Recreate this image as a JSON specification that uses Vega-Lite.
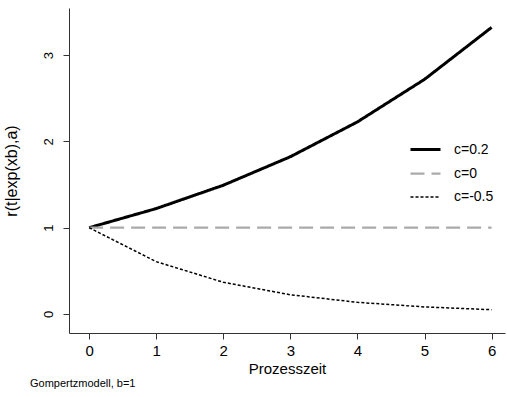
{
  "$schema": "https://vega.github.io/schema/vega-lite/v6.json",
  "autosize": {"type": "none"},
  "padding": {"left": 69, "top": 8, "right": 2, "bottom": 64},
  "width": 436,
  "height": 325,
  "background": "white",
  "config": {
    "font": "Liberation Sans",
    "view": {"stroke": null},
    "axis": {"grid": false, "domainColor": "#333", "tickColor": "#333", "labelColor": "black", "titleColor": "black", "titleFontWeight": "normal"}
  },
  "title": {
    "text": "Gompertzmodell, b=1",
    "orient": "bottom",
    "anchor": "start",
    "frame": "group",
    "fontSize": 11,
    "fontWeight": "normal",
    "dx": -39,
    "offset": 2,
    "color": "black"
  },
  "data": {
    "values": [
      {"t": 0, "r": 1, "c": "c=0.2"},
      {"t": 1, "r": 1.2214, "c": "c=0.2"},
      {"t": 2, "r": 1.4918, "c": "c=0.2"},
      {"t": 3, "r": 1.8221, "c": "c=0.2"},
      {"t": 4, "r": 2.2255, "c": "c=0.2"},
      {"t": 5, "r": 2.7183, "c": "c=0.2"},
      {"t": 6, "r": 3.3201, "c": "c=0.2"},
      {"t": 0, "r": 1, "c": "c=0"},
      {"t": 1, "r": 1, "c": "c=0"},
      {"t": 2, "r": 1, "c": "c=0"},
      {"t": 3, "r": 1, "c": "c=0"},
      {"t": 4, "r": 1, "c": "c=0"},
      {"t": 5, "r": 1, "c": "c=0"},
      {"t": 6, "r": 1, "c": "c=0"},
      {"t": 0, "r": 1, "c": "c=-0.5"},
      {"t": 1, "r": 0.6065, "c": "c=-0.5"},
      {"t": 2, "r": 0.3679, "c": "c=-0.5"},
      {"t": 3, "r": 0.2231, "c": "c=-0.5"},
      {"t": 4, "r": 0.1353, "c": "c=-0.5"},
      {"t": 5, "r": 0.0821, "c": "c=-0.5"},
      {"t": 6, "r": 0.0498, "c": "c=-0.5"}
    ]
  },
  "mark": {"type": "line", "clip": true},
  "encoding": {
    "x": {
      "field": "t", "type": "quantitative",
      "scale": {"domain": [-0.3, 6.2], "nice": false, "zero": false},
      "axis": {"values": [0, 1, 2, 3, 4, 5, 6], "title": "Prozesszeit", "labelFontSize": 15, "titleFontSize": 15, "tickSize": 6, "labelPadding": 4, "titlePadding": 3, "labelFlush": false}
    },
    "y": {
      "field": "r", "type": "quantitative",
      "scale": {"domain": [-0.22, 3.545], "nice": false, "zero": false},
      "axis": {"values": [0, 1, 2, 3], "title": "r(t|exp(xb),a)", "labelAngle": 270, "labelAlign": "center", "labelBaseline": "bottom", "labelFontSize": 13, "titleFontSize": 16, "tickSize": 6, "labelPadding": 8, "titlePadding": 23, "labelFlush": false}
    },
    "color": {
      "field": "c", "type": "nominal",
      "scale": {"domain": ["c=0.2", "c=0", "c=-0.5"], "range": ["black", "#aaaaaa", "black"]},
      "legend": {"title": null, "orient": "none", "legendX": 340, "legendY": 125, "labelFontSize": 14, "symbolSize": 900, "symbolType": "stroke", "labelOffset": 12, "rowPadding": 0}
    },
    "strokeDash": {
      "field": "c", "type": "nominal",
      "scale": {"domain": ["c=0.2", "c=0", "c=-0.5"], "range": [[1, 0], [14, 7], [3, 2]]}
    },
    "strokeWidth": {
      "field": "c", "type": "nominal",
      "scale": {"domain": ["c=0.2", "c=0", "c=-0.5"], "range": [3, 1.5, 1.2]}
    }
  }
}
